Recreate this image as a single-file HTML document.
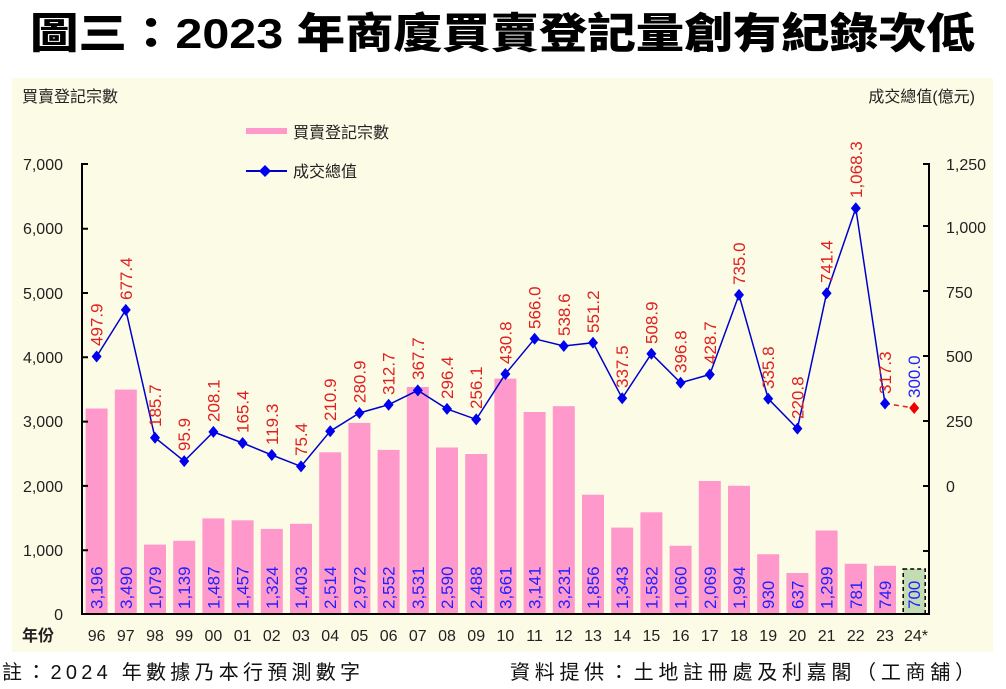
<!DOCTYPE html>
<html><head><meta charset="utf-8"><style>
body{margin:0;background:#fff;width:1006px;height:689px;overflow:hidden}
svg{display:block}
text{font-family:"Liberation Sans","Noto Sans CJK TC",sans-serif}
.t{font-size:16px;fill:#222}
.b{font-size:17px;fill:#2020ff}
.r{font-size:17px;fill:#e02020}
</style></head><body>
<svg width="1006" height="689" viewBox="0 0 1006 689">
<text x="30" y="48" textLength="945" lengthAdjust="spacingAndGlyphs" style="font-family:'Liberation Sans','Noto Sans CJK TC',sans-serif;font-weight:900;font-size:42px" fill="#000">圖三：2023 年商廈買賣登記量創有紀錄次低</text>
<rect x="12" y="78" width="981" height="574" fill="#fcfce6"/>
<text x="22" y="102" class="t">買賣登記宗數</text>
<text x="975" y="102" class="t" text-anchor="end">成交總值(億元)</text>
<rect x="246" y="128" width="41" height="6" fill="#ff99cc"/>
<text x="293" y="138" class="t" font-size="17">買賣登記宗數</text>
<line x1="246" y1="171" x2="287" y2="171" stroke="#0000cc" stroke-width="2"/>
<path d="M265 165l6 6-6 6-6-6z" fill="#0000ee"/>
<text x="293" y="177" class="t" font-size="17">成交總值</text>
<g fill="#ff99cc">
<rect x="85.6" y="408.5" width="22" height="205.5"/><rect x="114.8" y="389.6" width="22" height="224.4"/><rect x="144" y="544.6" width="22" height="69.4"/><rect x="173.2" y="540.8" width="22" height="73.2"/><rect x="202.4" y="518.4" width="22" height="95.6"/><rect x="231.6" y="520.3" width="22" height="93.7"/><rect x="260.8" y="528.9" width="22" height="85.1"/><rect x="290" y="523.8" width="22" height="90.2"/><rect x="319.2" y="452.3" width="22" height="161.7"/><rect x="348.4" y="422.9" width="22" height="191.1"/><rect x="377.6" y="449.9" width="22" height="164.1"/><rect x="406.8" y="387" width="22" height="227"/><rect x="436" y="447.5" width="22" height="166.5"/><rect x="465.2" y="454" width="22" height="160"/><rect x="494.4" y="378.6" width="22" height="235.4"/><rect x="523.6" y="412" width="22" height="202"/><rect x="552.8" y="406.2" width="22" height="207.8"/><rect x="582" y="494.7" width="22" height="119.3"/><rect x="611.2" y="527.6" width="22" height="86.4"/><rect x="640.4" y="512.3" width="22" height="101.7"/><rect x="669.6" y="545.8" width="22" height="68.2"/><rect x="698.8" y="481" width="22" height="133"/><rect x="728" y="485.8" width="22" height="128.2"/><rect x="757.2" y="554.2" width="22" height="59.8"/><rect x="786.4" y="573" width="22" height="41"/><rect x="815.6" y="530.5" width="22" height="83.5"/><rect x="844.8" y="563.8" width="22" height="50.2"/><rect x="874" y="565.8" width="22" height="48.2"/>
</g>
<rect x="903.2" y="569" width="22" height="45" fill="#c4dcb4" stroke="#000" stroke-dasharray="4,3" stroke-width="1.5"/>
<g class="b">
<text class="b" transform="translate(102.6,609) rotate(-90)">3,196</text>
<text class="b" transform="translate(131.8,609) rotate(-90)">3,490</text>
<text class="b" transform="translate(161,609) rotate(-90)">1,079</text>
<text class="b" transform="translate(190.2,609) rotate(-90)">1,139</text>
<text class="b" transform="translate(219.4,609) rotate(-90)">1,487</text>
<text class="b" transform="translate(248.6,609) rotate(-90)">1,457</text>
<text class="b" transform="translate(277.8,609) rotate(-90)">1,324</text>
<text class="b" transform="translate(307,609) rotate(-90)">1,403</text>
<text class="b" transform="translate(336.2,609) rotate(-90)">2,514</text>
<text class="b" transform="translate(365.4,609) rotate(-90)">2,972</text>
<text class="b" transform="translate(394.6,609) rotate(-90)">2,552</text>
<text class="b" transform="translate(423.8,609) rotate(-90)">3,531</text>
<text class="b" transform="translate(453,609) rotate(-90)">2,590</text>
<text class="b" transform="translate(482.2,609) rotate(-90)">2,488</text>
<text class="b" transform="translate(511.4,609) rotate(-90)">3,661</text>
<text class="b" transform="translate(540.6,609) rotate(-90)">3,141</text>
<text class="b" transform="translate(569.8,609) rotate(-90)">3,231</text>
<text class="b" transform="translate(599,609) rotate(-90)">1,856</text>
<text class="b" transform="translate(628.2,609) rotate(-90)">1,343</text>
<text class="b" transform="translate(657.4,609) rotate(-90)">1,582</text>
<text class="b" transform="translate(686.6,609) rotate(-90)">1,060</text>
<text class="b" transform="translate(715.8,609) rotate(-90)">2,069</text>
<text class="b" transform="translate(745,609) rotate(-90)">1,994</text>
<text class="b" transform="translate(774.2,609) rotate(-90)">930</text>
<text class="b" transform="translate(803.4,609) rotate(-90)">637</text>
<text class="b" transform="translate(832.6,609) rotate(-90)">1,299</text>
<text class="b" transform="translate(861.8,609) rotate(-90)">781</text>
<text class="b" transform="translate(891,609) rotate(-90)">749</text>
<text class="b" transform="translate(920.2,609) rotate(-90)">700</text>
</g>
<polyline fill="none" stroke="#0000cc" stroke-width="1.5" points="96.6,356.5 125.8,309.9 155,437.7 184.2,461.1 213.4,431.9 242.6,443 271.8,455 301,466.4 330.2,431.2 359.4,413 388.6,404.7 417.8,390.4 447,408.9 476.2,419.4 505.4,374 534.6,338.8 563.8,346 593,342.7 622.2,398.2 651.4,353.7 680.6,382.8 709.8,374.5 739,294.9 768.2,398.7 797.4,428.6 826.6,293.2 855.8,208.2 885,403.5"/>
<line x1="885" y1="403.5" x2="914.2" y2="408" stroke="#e02020" stroke-width="1.5" stroke-dasharray="5,4"/>
<g fill="#0000ee">
<path d="M96.6 350.5l5 6-5 6-5-6z"/><path d="M125.8 303.9l5 6-5 6-5-6z"/><path d="M155 431.7l5 6-5 6-5-6z"/><path d="M184.2 455.1l5 6-5 6-5-6z"/><path d="M213.4 425.9l5 6-5 6-5-6z"/><path d="M242.6 437l5 6-5 6-5-6z"/><path d="M271.8 449l5 6-5 6-5-6z"/><path d="M301 460.4l5 6-5 6-5-6z"/><path d="M330.2 425.2l5 6-5 6-5-6z"/><path d="M359.4 407l5 6-5 6-5-6z"/><path d="M388.6 398.7l5 6-5 6-5-6z"/><path d="M417.8 384.4l5 6-5 6-5-6z"/><path d="M447 402.9l5 6-5 6-5-6z"/><path d="M476.2 413.4l5 6-5 6-5-6z"/><path d="M505.4 368l5 6-5 6-5-6z"/><path d="M534.6 332.8l5 6-5 6-5-6z"/><path d="M563.8 340l5 6-5 6-5-6z"/><path d="M593 336.7l5 6-5 6-5-6z"/><path d="M622.2 392.2l5 6-5 6-5-6z"/><path d="M651.4 347.7l5 6-5 6-5-6z"/><path d="M680.6 376.8l5 6-5 6-5-6z"/><path d="M709.8 368.5l5 6-5 6-5-6z"/><path d="M739 288.9l5 6-5 6-5-6z"/><path d="M768.2 392.7l5 6-5 6-5-6z"/><path d="M797.4 422.6l5 6-5 6-5-6z"/><path d="M826.6 287.2l5 6-5 6-5-6z"/><path d="M855.8 202.2l5 6-5 6-5-6z"/><path d="M885 397.5l5 6-5 6-5-6z"/>
</g>
<path d="M914.2 402l5 6-5 6-5-6z" fill="#ee0000"/>
<g>
<text class="r" transform="translate(102.6,346) rotate(-90)">497.9</text>
<text class="r" transform="translate(131.8,300) rotate(-90)">677.4</text>
<text class="r" transform="translate(161,427) rotate(-90)">185.7</text>
<text class="r" transform="translate(190.2,451) rotate(-90)">95.9</text>
<text class="r" transform="translate(219.4,422) rotate(-90)">208.1</text>
<text class="r" transform="translate(248.6,433) rotate(-90)">165.4</text>
<text class="r" transform="translate(277.8,445) rotate(-90)">119.3</text>
<text class="r" transform="translate(307,456) rotate(-90)">75.4</text>
<text class="r" transform="translate(336.2,421) rotate(-90)">210.9</text>
<text class="r" transform="translate(365.4,403) rotate(-90)">280.9</text>
<text class="r" transform="translate(394.6,395) rotate(-90)">312.7</text>
<text class="r" transform="translate(423.8,380) rotate(-90)">367.7</text>
<text class="r" transform="translate(453,399) rotate(-90)">296.4</text>
<text class="r" transform="translate(482.2,409) rotate(-90)">256.1</text>
<text class="r" transform="translate(511.4,364) rotate(-90)">430.8</text>
<text class="r" transform="translate(540.6,329) rotate(-90)">566.0</text>
<text class="r" transform="translate(569.8,336) rotate(-90)">538.6</text>
<text class="r" transform="translate(599,333) rotate(-90)">551.2</text>
<text class="r" transform="translate(628.2,388) rotate(-90)">337.5</text>
<text class="r" transform="translate(657.4,344) rotate(-90)">508.9</text>
<text class="r" transform="translate(686.6,373) rotate(-90)">396.8</text>
<text class="r" transform="translate(715.8,364) rotate(-90)">428.7</text>
<text class="r" transform="translate(745,285) rotate(-90)">735.0</text>
<text class="r" transform="translate(774.2,389) rotate(-90)">335.8</text>
<text class="r" transform="translate(803.4,419) rotate(-90)">220.8</text>
<text class="r" transform="translate(832.6,283) rotate(-90)">741.4</text>
<text class="r" transform="translate(861.8,198) rotate(-90)">1,068.3</text>
<text class="r" transform="translate(891,394) rotate(-90)">317.3</text>
<text class="b" transform="translate(920.2,398) rotate(-90)">300.0</text>
</g>
<g stroke="#000" stroke-width="2" fill="none">
<path d="M88 164H82V614H929V164H923"/>
<path d="M82 228.7h6M82 293h6M82 357.3h6M82 421.6h6M82 485.9h6M82 550.2h6"/>
<path d="M929 226h-6M929 291h-6M929 356h-6M929 421h-6M929 486h-6M929 551h-6"/>
</g>
<g class="t" text-anchor="end">
<text x="63" y="170">7,000</text><text x="63" y="234">6,000</text><text x="63" y="299">5,000</text><text x="63" y="363">4,000</text><text x="63" y="427">3,000</text><text x="63" y="492">2,000</text><text x="63" y="556">1,000</text><text x="63" y="620">0</text>
</g>
<g class="t">
<text x="946" y="170">1,250</text><text x="946" y="233">1,000</text><text x="946" y="298">750</text><text x="946" y="362">500</text><text x="946" y="427">250</text><text x="946" y="492">0</text>
</g>
<text x="22" y="641" class="t" font-weight="bold">年份</text>
<g class="t" text-anchor="middle">
<text x="96.6" y="641">96</text><text x="125.8" y="641">97</text><text x="155" y="641">98</text><text x="184.2" y="641">99</text><text x="213.4" y="641">00</text><text x="242.6" y="641">01</text><text x="271.8" y="641">02</text><text x="301" y="641">03</text><text x="330.2" y="641">04</text><text x="359.4" y="641">05</text><text x="388.6" y="641">06</text><text x="417.8" y="641">07</text><text x="447" y="641">08</text><text x="476.2" y="641">09</text><text x="505.4" y="641">10</text><text x="534.6" y="641">11</text><text x="563.8" y="641">12</text><text x="593" y="641">13</text><text x="622.2" y="641">14</text><text x="651.4" y="641">15</text><text x="680.6" y="641">16</text><text x="709.8" y="641">17</text><text x="739" y="641">18</text><text x="768.2" y="641">19</text><text x="797.4" y="641">20</text><text x="826.6" y="641">21</text><text x="855.8" y="641">22</text><text x="885" y="641">23</text><text x="916" y="641">24*</text>
</g>
<text x="2" y="679" textLength="358" lengthAdjust="spacing" style="font-size:20px" fill="#111">註：2024 年數據乃本行預測數字</text>
<text x="510" y="679" textLength="465" lengthAdjust="spacing" style="font-size:20px" fill="#111">資料提供：土地註冊處及利嘉閣（工商舖）</text>
</svg>
</body></html>
